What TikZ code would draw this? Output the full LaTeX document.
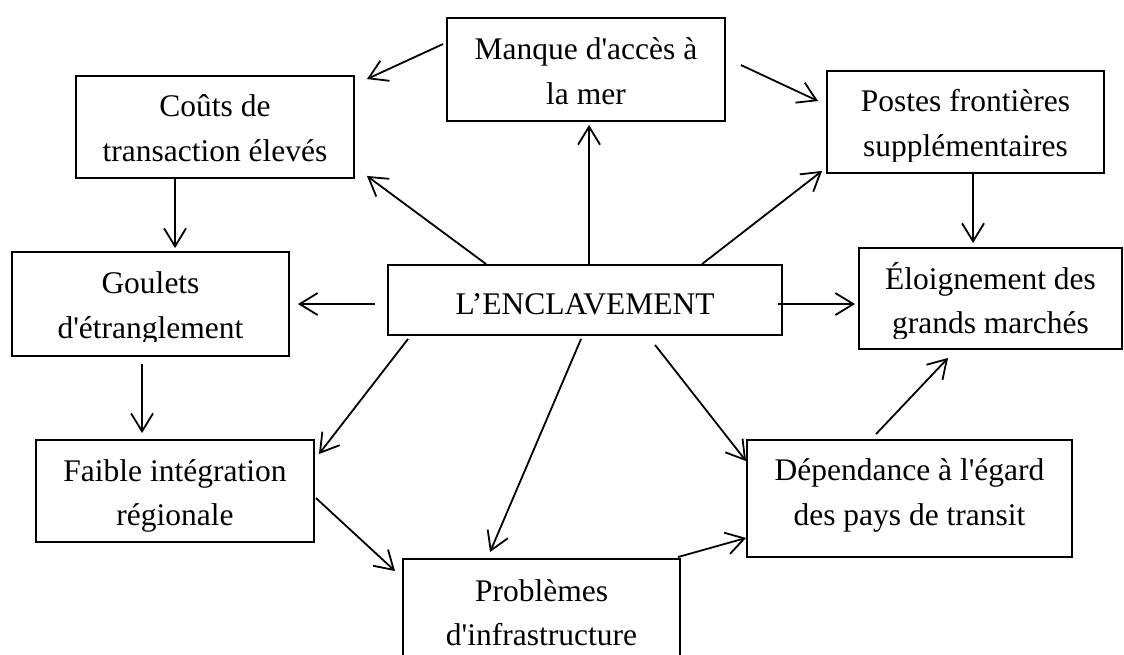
\documentclass[tikz,border=0pt]{standalone}
\usepackage{fontspec}
\setmainfont{Liberation Serif}[Ligatures=TeXOff]
\usetikzlibrary{arrows.meta}
\tikzset{
  box/.style={draw, line width=1.9pt, inner sep=0pt, fill=none},
  txt/.style={anchor=base, inner sep=0pt, font=\fontsize{31.5}{36}\selectfont},
  arr/.style={line width=1.8pt, -{Straight Barb[length=18pt,width=22pt]}}
}
\begin{document}
\begin{tikzpicture}[x=1pt,y=-1pt]
\useasboundingbox[fill=white] (0,0) rectangle (1124,655);
% boxes
\node[box, minimum width=278pt, minimum height=103pt] (manque) at (586,69.5) {};
\node[box, minimum width=278pt, minimum height=102pt] (couts) at (215,127) {};
\node[box, minimum width=277pt, minimum height=102pt] (postes) at (965.5,122) {};
\node[box, minimum width=277pt, minimum height=104pt] (goulets) at (150.5,304) {};
\node[box, minimum width=394pt, minimum height=70pt] (encl) at (585,300) {};
\node[box, minimum width=263pt, minimum height=101pt] (eloign) at (990.5,298.5) {};
\node[box, minimum width=278pt, minimum height=102pt] (faible) at (175,491) {};
\node[box, minimum width=325pt, minimum height=117pt] (depend) at (909.5,498.5) {};
\node[box, minimum width=277pt, minimum height=104pt] (prob) at (541.5,611) {};
% texts
\begin{scope}\clip (447,18) rectangle (725,110);
\node[txt] (manqueA) at (586,60) {Manque d'accès à};
\node[txt] (manqueB) at (586,105) {la mer};
\end{scope}
\begin{scope}\clip (76,76) rectangle (354,167);
\node[txt] (coutsA) at (215,117) {Coûts de};
\node[txt] (coutsB) at (215,162) {transaction élevés};
\end{scope}
\begin{scope}\clip (827,71) rectangle (1104,162);
\node[txt] (postesA) at (965.5,112) {Postes frontières};
\node[txt] (postesB) at (965.5,157) {supplémentaires};
\end{scope}
\begin{scope}\clip (12,252) rectangle (289,341);
\node[txt] (gouletsA) at (150.5,293) {Goulets};
\node[txt] (gouletsB) at (150.5,338) {d'étranglement};
\end{scope}
\node[txt] (enclA) at (585,314) {L’ENCLAVEMENT};
\begin{scope}\clip (859,248) rectangle (1122,338);
\node[txt] (eloignA) at (990.5,289) {Éloignement des};
\node[txt] (eloignB) at (990.5,333) {grands marchés};
\end{scope}
\begin{scope}\clip (36,440) rectangle (314,531);
\node[txt] (faibleA) at (175,481) {Faible intégration};
\node[txt] (faibleB) at (175,525) {régionale};
\end{scope}
\begin{scope}\clip (747,440) rectangle (1072,546);
\node[txt] (dependA) at (909.5,480) {Dépendance à l'égard};
\node[txt] (dependB) at (909.5,525) {des pays de transit};
\end{scope}
\node[txt] (probA) at (541.5,601) {Problèmes};
\node[txt] (probB) at (541.5,645) {d'infrastructure};
% arrows
\draw[arr] ([xshift=-3pt,yshift=-27pt]manque.north west) -- ([xshift=12pt,yshift=-4pt]couts.north east);
\draw[arr] ([xshift=15pt,yshift=-48pt]manque.north east) -- ([xshift=-8pt,yshift=-31pt]postes.north west);
\draw[arr] ([xshift=202pt]encl.north west) -- ([xshift=143pt,yshift=-3pt]manque.south west);
\draw[arr] ([xshift=99pt]encl.north west) -- ([xshift=12pt,yshift=3pt]couts.south east);
\draw[arr] ([xshift=315pt]encl.north west) -- ([xshift=-4pt,yshift=3pt]postes.south west);
\draw[arr] ([xshift=100pt]couts.south west) -- ([xshift=164pt,yshift=3pt]goulets.north west);
\draw[arr] ([xshift=-12pt,yshift=-40pt]encl.north west) -- ([xshift=8pt,yshift=-53pt]goulets.north east);
\draw[arr] ([xshift=-5pt,yshift=-40pt]encl.north east) -- ([xshift=-3pt,yshift=-57pt]eloign.north west);
\draw[arr] ([xshift=147pt]postes.south west) -- ([xshift=115pt,yshift=4pt]eloign.north west);
\draw[arr] ([xshift=131pt,yshift=-7pt]goulets.south west) -- ([xshift=107pt,yshift=6pt]faible.north west);
\draw[arr] ([xshift=21pt,yshift=-3pt]encl.south west) -- ([xshift=4pt,yshift=-15pt]faible.north east);
\draw[arr] ([xshift=194pt,yshift=-3pt]encl.south west) -- ([xshift=88pt,yshift=6pt]prob.north west);
\draw[arr] ([xshift=268pt,yshift=-9pt]encl.south west) -- ([yshift=-22pt]depend.north west);
\draw[arr] ([xshift=1pt,yshift=-59pt]faible.north east) -- ([xshift=-7pt,yshift=-13pt]prob.north west);
\draw[arr] ([xshift=-3pt,yshift=1pt]prob.north east) -- ([yshift=20pt]depend.south west);
\draw[arr] ([xshift=130pt,yshift=5pt]depend.north west) -- ([xshift=90pt,yshift=-8pt]eloign.south west);
\end{tikzpicture}
\end{document}
